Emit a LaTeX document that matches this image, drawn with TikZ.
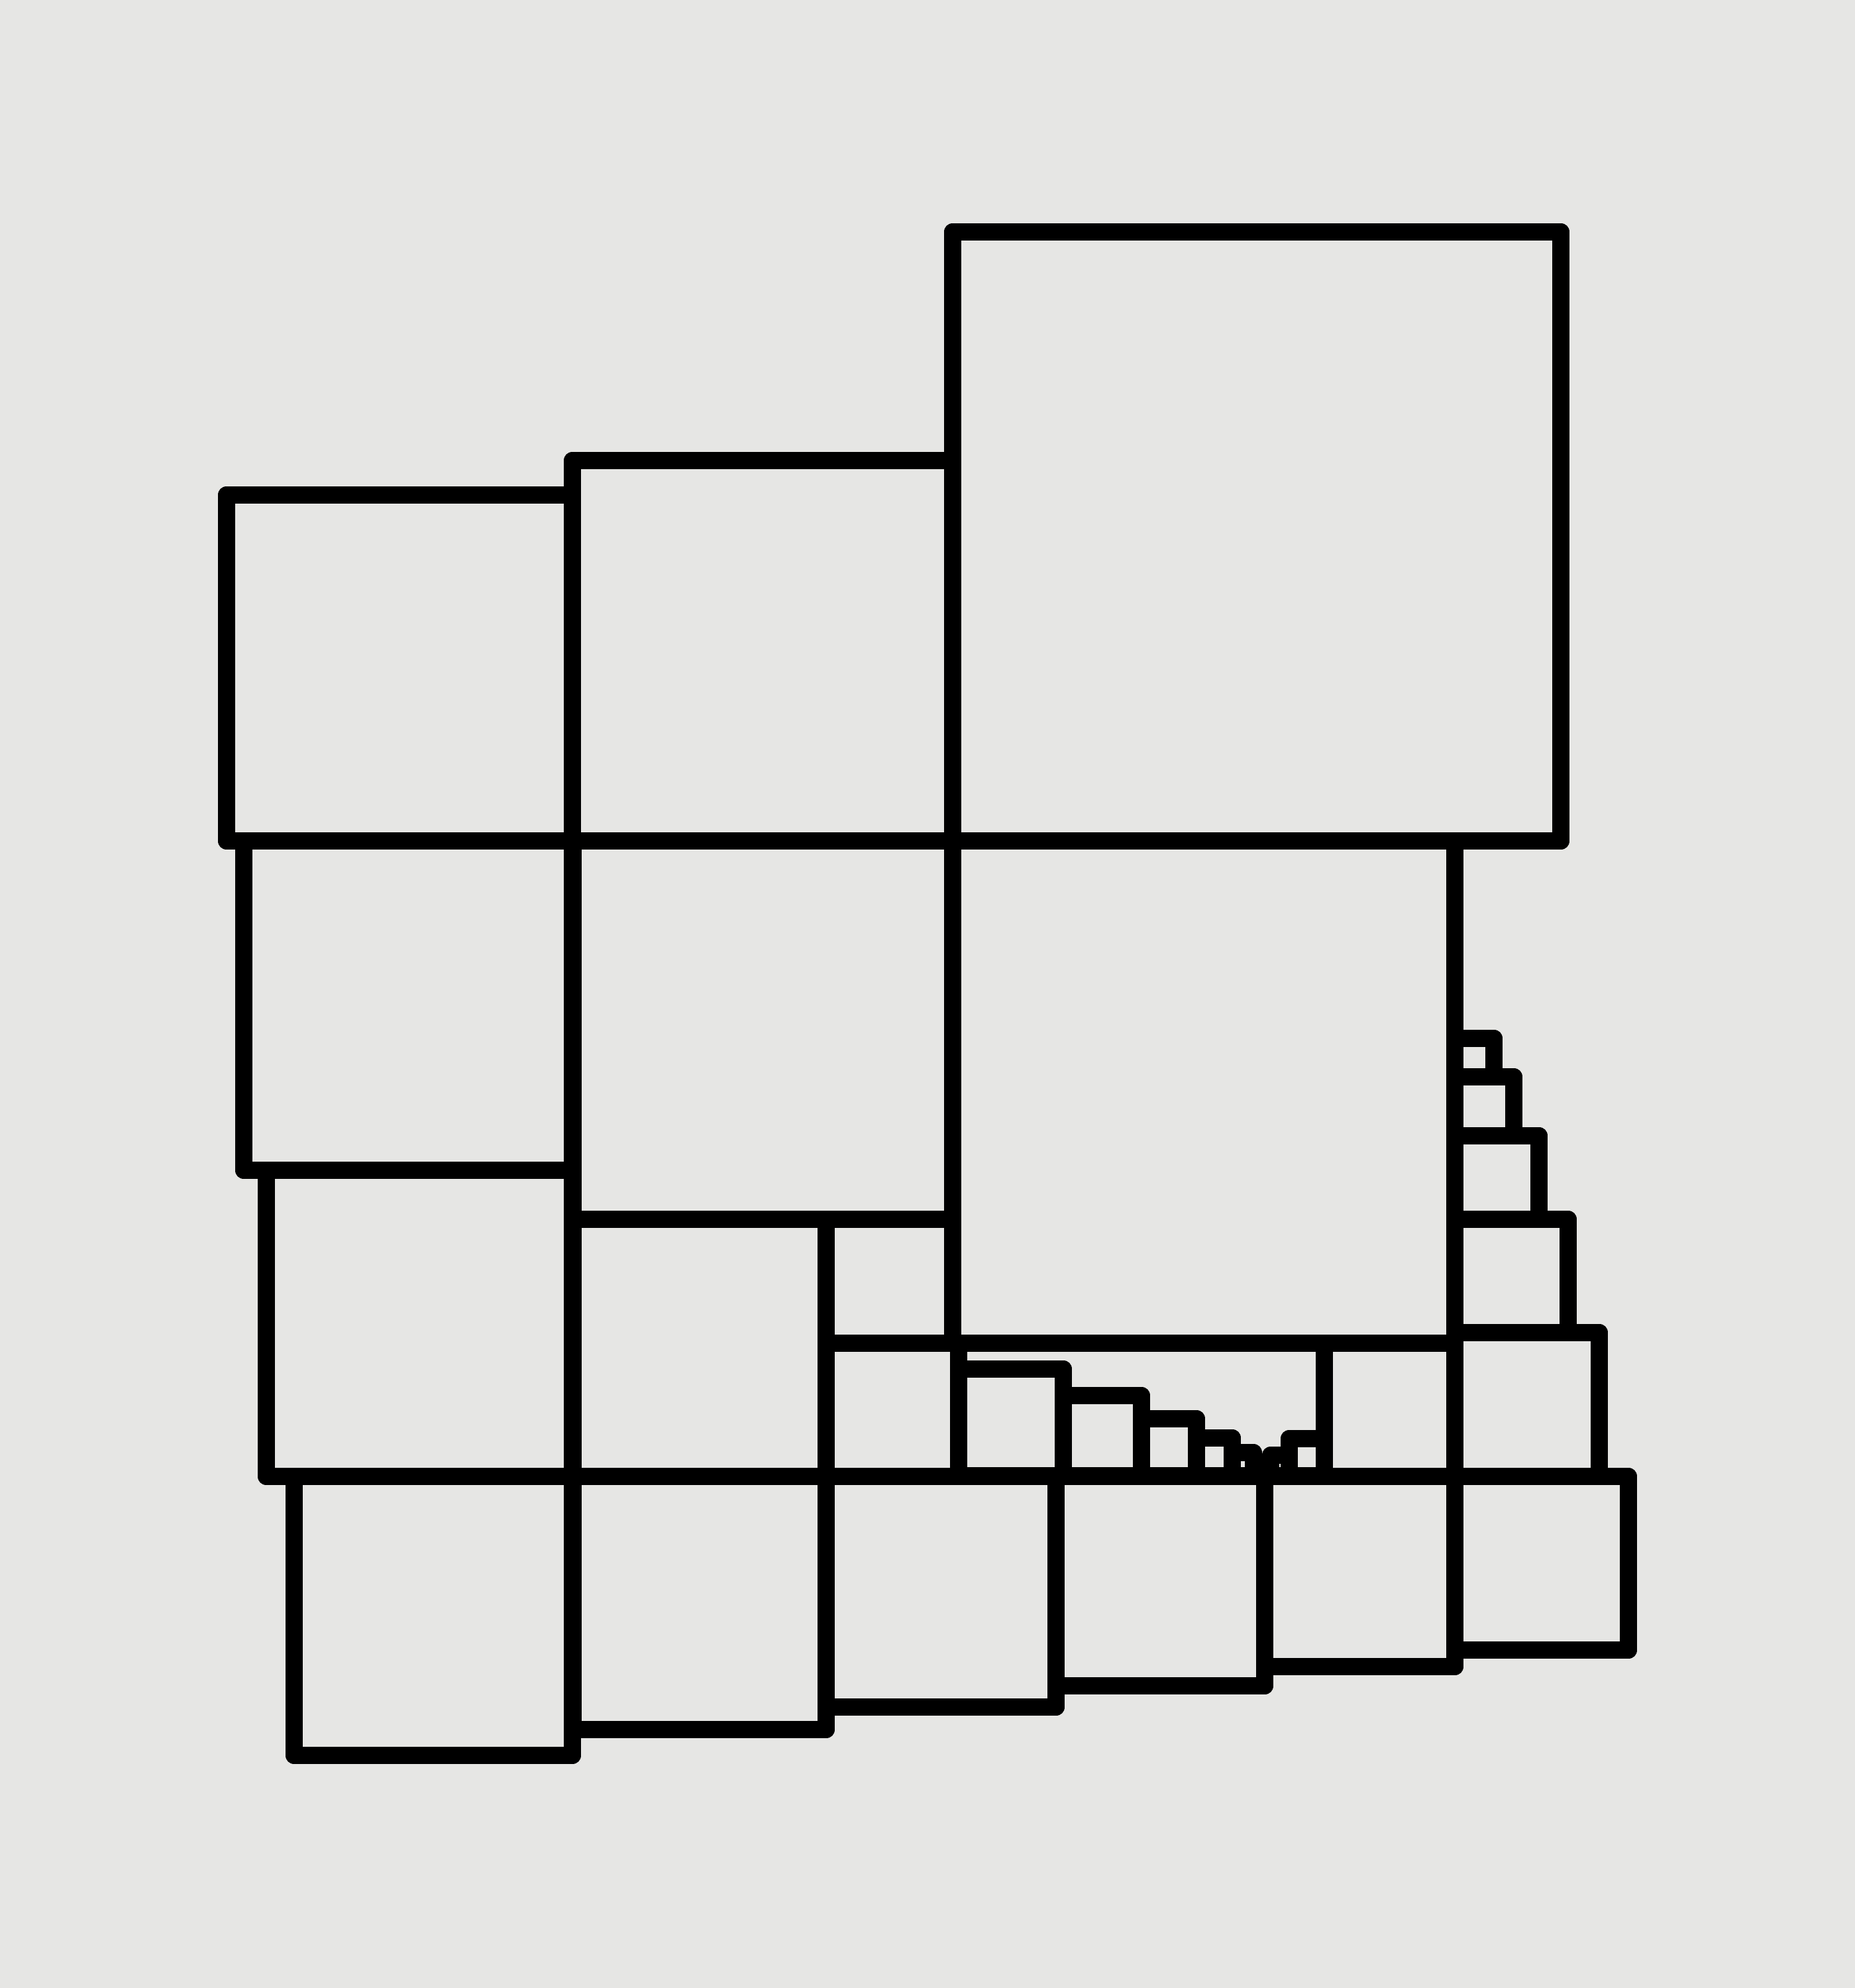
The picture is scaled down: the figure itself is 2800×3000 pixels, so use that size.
\documentclass[tikz,border=0pt]{standalone}
\definecolor{bgc}{RGB}{230,230,228}
\tikzset{sq/.style={draw=black,line width=0.267cm,line join=round,line cap=round}}
\begin{document}
\begin{tikzpicture}[x=0.01cm,y=-0.01cm]
\fill[bgc] (0,0) rectangle (2800,3000);
\useasboundingbox (0,0) rectangle (2800,3000);
% top row
\draw[sq] (342,747) rectangle (864,1269);
\draw[sq] (864,695) rectangle (1438,1269);
\draw[sq] (1438,350) rectangle (2356,1269);
% second row
\draw[sq] (368,1269) rectangle (864,1766);
\draw[sq] (865,1269) rectangle (1438,1840);
\draw[sq] (1438,1269) rectangle (2196,2027);
% third row
\draw[sq] (402,1766) rectangle (864,2228);
\draw[sq] (865,1840) rectangle (1247,2228);
\draw[sq] (1247,1840) rectangle (1438,2027);
\draw[sq] (1247,2027) rectangle (1447,2228);
% small steps in the strip
\draw[sq] (1447,2066) rectangle (1605,2227);
\draw[sq] (1605,2106) rectangle (1723,2227);
\draw[sq] (1723,2141) rectangle (1806,2227);
\draw[sq] (1806,2170) rectangle (1860,2227);
\draw[sq] (1860,2192) rectangle (1892,2227);
\draw[sq] (1918,2196) rectangle (1946,2227);
\draw[sq] (1946,2171) rectangle (1999,2227);
\draw[sq] (1999,2027) rectangle (2196,2228);
% bottom row
\draw[sq] (444,2228) rectangle (864,2649);
\draw[sq] (865,2228) rectangle (1247,2610);
\draw[sq] (1247,2228) rectangle (1594,2576);
\draw[sq] (1594,2228) rectangle (1909,2544);
\draw[sq] (1909,2228) rectangle (2196,2515);
\draw[sq] (2196,2228) rectangle (2458,2490);
% right staircase
\draw[sq] (2196,2011) rectangle (2414,2228);
\draw[sq] (2196,1840) rectangle (2367,2011);
\draw[sq] (2196,1714) rectangle (2323,1840);
\draw[sq] (2196,1625) rectangle (2285,1714);
\draw[sq] (2196,1567) rectangle (2255,1625);
\end{tikzpicture}
\end{document}
